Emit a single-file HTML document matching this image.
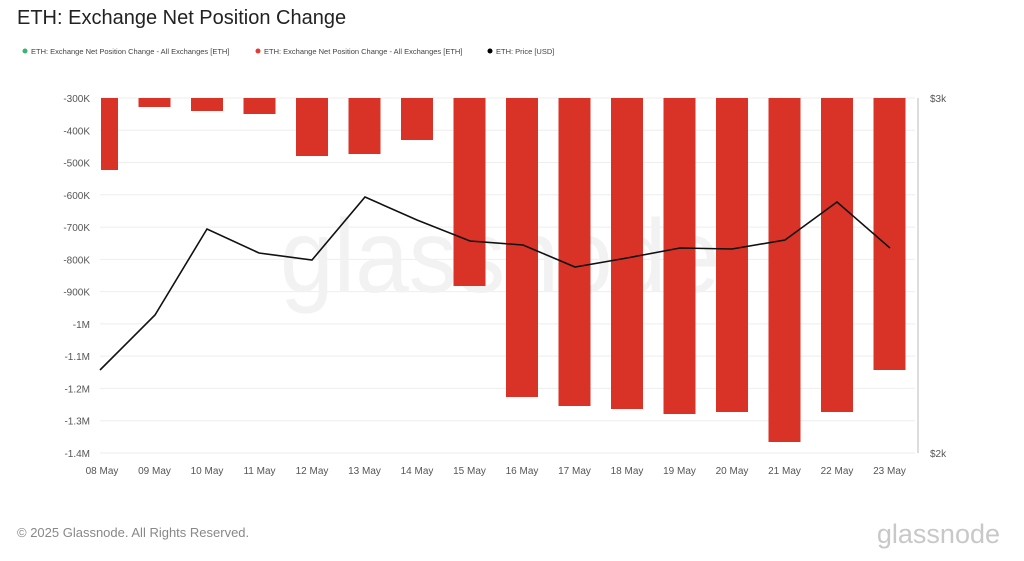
<!DOCTYPE html>
<html><head><meta charset="utf-8"><style>
body{margin:0;background:#fff;width:1024px;height:556px;overflow:hidden;font-family:"Liberation Sans",sans-serif}
</style></head><body>
<svg width="1024" height="556" xmlns="http://www.w3.org/2000/svg" font-family="Liberation Sans, sans-serif">
<text x="17" y="24" font-size="20" fill="#222">ETH: Exchange Net Position Change</text>
<g font-size="7.5" fill="#444">
<circle cx="25" cy="51" r="2.5" fill="#3cb371"/><text x="31" y="54">ETH: Exchange Net Position Change - All Exchanges [ETH]</text>
<circle cx="258" cy="51" r="2.5" fill="#e53935"/><text x="264" y="54">ETH: Exchange Net Position Change - All Exchanges [ETH]</text>
<circle cx="490" cy="51" r="2.5" fill="#000"/><text x="496" y="54">ETH: Price [USD]</text>
</g>
<g stroke="#eeeeee" stroke-width="1" id="grid"></g>
<text x="500" y="292" font-size="104" fill="#f2f2f2" text-anchor="middle" textLength="440" lengthAdjust="spacingAndGlyphs">glassnode</text>
<g id="bars" fill="#d93327"></g>
<line x1="918" y1="98" x2="918" y2="453" stroke="#bbb"/>
<text x="930" y="102" font-size="10" fill="#555">$3k</text>
<text x="930" y="457" font-size="10" fill="#555">$2k</text>
<g id="yl" font-size="10" fill="#555" text-anchor="end"></g>
<g id="xl" font-size="10" fill="#555" text-anchor="middle"></g>
<polyline fill="none" stroke="#111" stroke-width="1.6" points="100,370 155,315 207,229 259,253 312,260 365,197 417,220 470,241 523,245 575,267 627,258 680,248 732,249 785,240 837,202 890,248"/>
<text x="17" y="537" font-size="13" fill="#888">© 2025 Glassnode. All Rights Reserved.</text>
<text x="1000" y="543" font-size="27" fill="#c8c8c8" text-anchor="end">glassnode</text>
</svg>
<script>
var ns="http://www.w3.org/2000/svg";
function el(p,t,a,txt){var e=document.createElementNS(ns,t);for(var k in a)e.setAttribute(k,a[k]);if(txt)e.textContent=txt;document.getElementById(p).appendChild(e);}
var labs=["-300K","-400K","-500K","-600K","-700K","-800K","-900K","-1M","-1.1M","-1.2M","-1.3M","-1.4M"];
for(var i=0;i<12;i++){var y=98+i*32.27;el("grid","line",{x1:100,x2:915,y1:y,y2:y});el("yl","text",{x:90,y:y+4},labs[i]);}
var b=[170,107,111,114,156,154,140,286,397,406,409,414,412,442,412,370];
for(var i=0;i<16;i++){var c=102+52.5*i,x=c-16,w=32;if(x<101){w-=101-x;x=101;}
el("bars","rect",{x:x,y:98,width:w,height:b[i]-98});
el("xl","text",{x:c,y:474},(i<2?"0"+(8+i):(8+i))+" May");}
</script>
</body></html>
